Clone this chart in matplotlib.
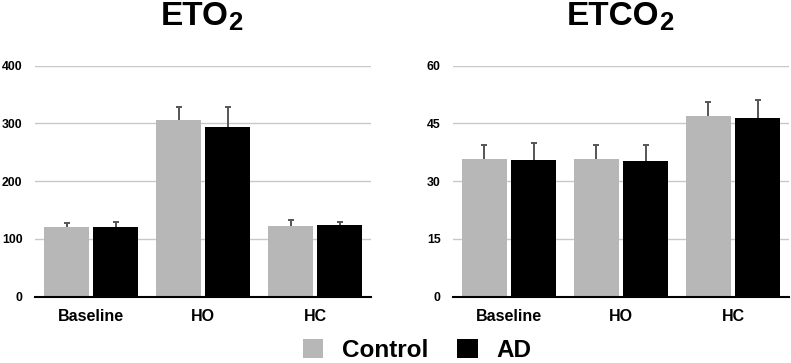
import matplotlib
matplotlib.use("Agg")
import matplotlib.pyplot as plt
from matplotlib.patches import Patch
import numpy as np

plt.rcParams['font.family'] = ['Liberation Sans', 'DejaVu Sans']

# ── data ────────────────────────────────────────────────────────────────
categories = ["Baseline", "HO", "HC"]

eto2_control = [121, 306, 122]
eto2_control_err = [6, 23, 11]
eto2_ad = [120, 293, 124]
eto2_ad_err = [10, 36, 5]

etco2_control = [35.7, 35.7, 46.9]
etco2_control_err = [3.7, 3.7, 3.6]
etco2_ad = [35.4, 35.2, 46.5]
etco2_ad_err = [4.4, 4.3, 4.5]

eto2_ticks = [0, 100, 200, 300, 400]
etco2_ticks = [0, 15, 30, 45, 60]

CONTROL_COLOR = '#b7b7b7'
AD_COLOR = '#000000'


def draw_panel(ax, ctrl, ctrl_err, ad, ad_err, ticks, title, sub):
    x = np.arange(len(categories))
    w = 0.40
    off = 0.219
    ax.bar(x - off, ctrl, w, color=CONTROL_COLOR, zorder=3)
    ax.bar(x + off, ad, w, color=AD_COLOR, zorder=3)
    # symmetric bars drawn behind the columns -> only upper half visible
    err_kw = dict(fmt='none', ecolor='#555555', elinewidth=1.4,
                  capsize=2.5, capthick=1.4, zorder=2)
    ax.errorbar(x - off, ctrl, yerr=ctrl_err, **err_kw)
    ax.errorbar(x + off, ad, yerr=ad_err, **err_kw)

    ax.set_xlim(-0.5, len(categories) - 0.5)
    ax.set_ylim(ticks[0], ticks[-1])
    ax.set_yticks(ticks)
    ax.set_xticks(x)
    ax.set_xticklabels(categories, fontsize=11.5, fontweight='bold')
    for lbl in ax.get_yticklabels():
        lbl.set_fontweight('bold')
        lbl.set_fontsize(8.8)
    ax.tick_params(axis='y', length=0, pad=9)
    ax.tick_params(axis='x', length=0, pad=9)
    ax.grid(axis='y', color='#c8c8c8', linewidth=1.0, zorder=0)
    ax.set_axisbelow(True)
    for s in ['left', 'right', 'top']:
        ax.spines[s].set_visible(False)
    ax.spines['bottom'].set_color('black')
    ax.spines['bottom'].set_linewidth(1.5)
    ax.spines['bottom'].set_zorder(4)

    # title with a real subscript: main text + smaller lowered "2"
    t = ax.set_title(title, fontsize=24, fontweight='bold', pad=29)
    t.set_x(0.5 - 0.025)
    ax.annotate(sub, xy=(1, 0), xycoords=t, xytext=(0, 1.5),
                textcoords='offset points', fontsize=18.5, fontweight='bold',
                ha='left', va='baseline')


fig = plt.figure(figsize=(7.91, 3.63), dpi=100)
ax1 = fig.add_axes([0.0443, 0.1826, 0.4248, 0.6364])
ax2 = fig.add_axes([0.5727, 0.1826, 0.4248, 0.6364])

draw_panel(ax1, eto2_control, eto2_control_err, eto2_ad, eto2_ad_err,
           eto2_ticks, 'ETO', '2')
draw_panel(ax2, etco2_control, etco2_control_err, etco2_ad, etco2_ad_err,
           etco2_ticks, 'ETCO', '2')

handles = [Patch(facecolor=CONTROL_COLOR, label='Control'),
           Patch(facecolor=AD_COLOR, label='AD')]
fig.legend(handles=handles, loc='center', bbox_to_anchor=(0.527, 0.035),
           ncol=2, frameon=False, handlelength=0.85, handleheight=0.85,
           handletextpad=0.75, columnspacing=1.2,
           prop={'family': 'Liberation Sans', 'weight': 'bold', 'size': 17.5})

fig.savefig('out.png', dpi=100)
